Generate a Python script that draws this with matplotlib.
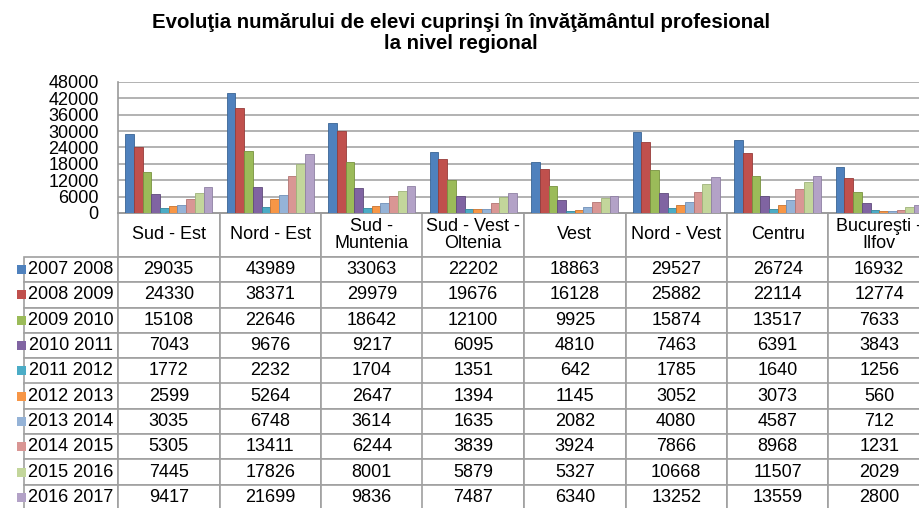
import matplotlib.pyplot as plt
import matplotlib.patches as mpatches
import numpy as np

plt.rcParams['font.family'] = ['Liberation Sans', 'DejaVu Sans']

regions = ['Sud - Est', 'Nord - Est', 'Sud -\nMuntenia', 'Sud - Vest -\nOltenia',
           'Vest', 'Nord - Vest', 'Centru', 'Bucureşti -\nIlfov']
years = ['2007 2008', '2008 2009', '2009 2010', '2010 2011', '2011 2012',
         '2012 2013', '2013 2014', '2014 2015', '2015 2016', '2016 2017']

v2007 = [29035, 43989, 33063, 22202, 18863, 29527, 26724, 16932]
v2008 = [24330, 38371, 29979, 19676, 16128, 25882, 22114, 12774]
v2009 = [15108, 22646, 18642, 12100, 9925, 15874, 13517, 7633]
v2010 = [7043, 9676, 9217, 6095, 4810, 7463, 6391, 3843]
v2011 = [1772, 2232, 1704, 1351, 642, 1785, 1640, 1256]
v2012 = [2599, 5264, 2647, 1394, 1145, 3052, 3073, 560]
v2013 = [3035, 6748, 3614, 1635, 2082, 4080, 4587, 712]
v2014 = [5305, 13411, 6244, 3839, 3924, 7866, 8968, 1231]
v2015 = [7445, 17826, 8001, 5879, 5327, 10668, 11507, 2029]
v2016 = [9417, 21699, 9836, 7487, 6340, 13252, 13559, 2800]
series = [v2007, v2008, v2009, v2010, v2011, v2012, v2013, v2014, v2015, v2016]

colors = ['#4F81BD', '#C0504D', '#9BBB59', '#8064A2', '#4BACC6',
          '#F79646', '#95B3D7', '#D99694', '#C3D69B', '#B3A2C7']
edges = ['#3A6595', '#973C3A', '#78923F', '#604B7C', '#34869C',
         '#C8732F', '#7090B8', '#B47472', '#9FB37A', '#8F80A3']

W, H = 920, 508
# plot area in pixels
px_left, px_right, px_bottom, px_top = 118, 930, 213, 82
ax_w = px_right - px_left
ax_h = px_bottom - px_top

fig = plt.figure(figsize=(W / 100, H / 100), dpi=100)
ax = fig.add_axes([px_left / W, 1 - px_bottom / H, ax_w / W, ax_h / H])

x = np.arange(len(regions))
bw = 0.086
for i, vals in enumerate(series):
    ax.bar(x + (i - 4.5) * bw, vals, bw, color=colors[i], edgecolor=edges[i],
           linewidth=0.6, zorder=3)

ax.set_xlim(-0.5, len(regions) - 0.5)
ax.set_ylim(0, 48000)
ax.set_yticks(np.arange(0, 48001, 6000))
ax.set_xticks([])
ax.tick_params(axis='y', length=0, pad=14, labelsize=13)
ax.yaxis.grid(True, color='#a6a6a6', linewidth=1.2)
ax.set_axisbelow(True)
for s in ['top', 'right']:
    ax.spines[s].set_visible(False)
for s in ['left', 'bottom']:
    ax.spines[s].set_color('#9a9a9a')
    ax.spines[s].set_linewidth(1.2)

# data table under the chart; sizes in pixels converted to axes units
lab_left = 13
head_h, row_h = 44, 25.3
lab_w, col_w = px_left - lab_left, ax_w / len(regions)
cell_text = [[str(v) for v in vals] for vals in series]
tab = ax.table(cellText=cell_text, rowLabels=years, colLabels=regions,
               cellLoc='center', rowLoc='right', loc='bottom')
tab.auto_set_font_size(False)
tab.set_fontsize(13)
for (r, c), cell in tab.get_celld().items():
    cell.set_edgecolor('#a0a0a0')
    cell.set_linewidth(1.2)
    cell.set_width((lab_w if c == -1 else col_w) / ax_w)
    cell.set_height((head_h if r == 0 else row_h) / ax_h)
    if c == -1:
        cell.PAD = 0.05
    if r == 0:
        cell.get_text().set_linespacing(0.95)

# legend keys in the row label column
for i in range(len(years)):
    yc = head_h + row_h * (i + 0.5)
    ax.add_patch(mpatches.Rectangle(((17 - px_left) / ax_w, -(yc + 4.5) / ax_h),
                                    9 / ax_w, 9 / ax_h, transform=ax.transAxes,
                                    facecolor=colors[i], edgecolor='none',
                                    clip_on=False))

fig.text(461 / W, 1 - 33 / H,
         'Evoluţia numărului de elevi cuprinşi în învăţământul profesional\nla nivel regional',
         ha='center', va='center', fontsize=14.7, fontweight='bold', linespacing=1.1)

fig.savefig('out.png', dpi=100)
